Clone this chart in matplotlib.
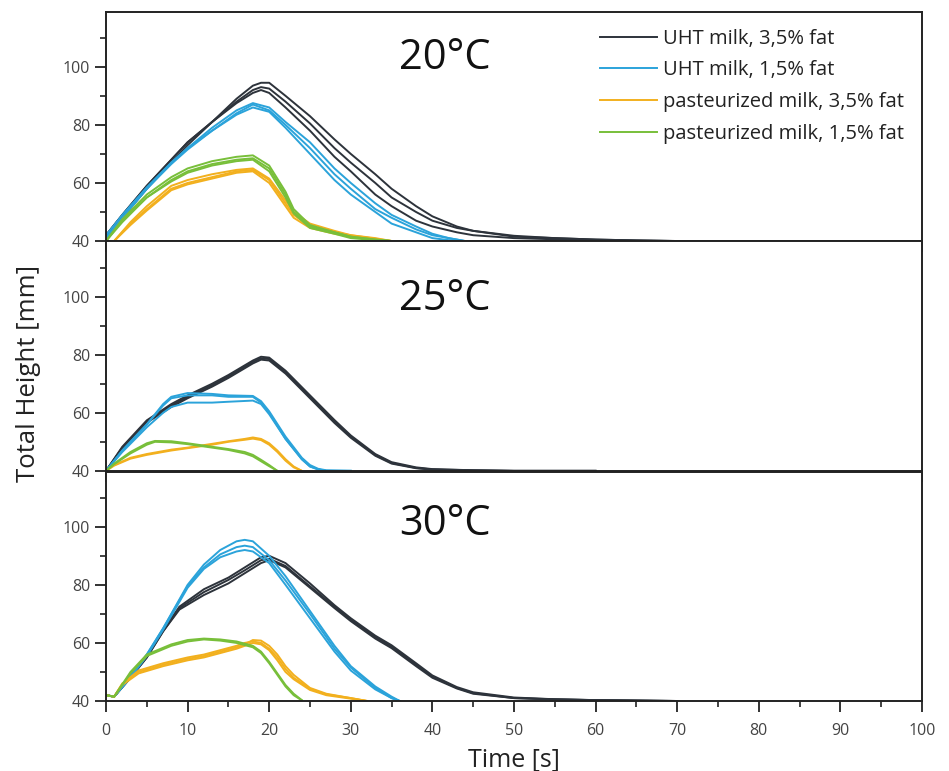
import matplotlib
matplotlib.use("Agg")
import matplotlib.pyplot as plt
from matplotlib.ticker import MultipleLocator

plt.rcParams['font.family'] = ['Open Sans', 'DejaVu Sans']

labels = ["UHT milk, 3,5% fat", "UHT milk, 1,5% fat",
          "pasteurized milk, 3,5% fat", "pasteurized milk, 1,5% fat"]
colors = ["#2d333b", "#2ba3da", "#f2b01e", "#78bf3a"]
temperatures = ["20°C", "25°C", "30°C"]

# ---- 20 °C ----
t20_uht35 = [0, 2, 5, 8, 10, 13, 16, 18, 19, 20, 22, 25, 28, 30, 33, 35, 38, 40, 43, 45, 50, 55, 60, 65, 70]
h20_uht35 = [
    [42, 49, 59, 68, 74, 81, 88, 92, 93, 92.5, 88, 80.5, 72, 67, 60, 55, 50, 47, 44.5, 43.5, 41.5, 41, 40.5, 40.2, 40],
    [41, 48, 58, 67, 73, 81, 89, 93.5, 94.5, 94.5, 90, 83, 75, 70, 63, 58, 52, 48.5, 45, 43.5, 41.8, 41, 40.5, 40.2, 40],
    [42, 49, 59, 68, 74, 81, 87.5, 91, 92, 91, 86, 78, 69, 64, 56, 52, 47, 45, 43, 42, 41, 40.6, 40.3, 40.1, 40],
]
t20_uht15 = [0, 2, 5, 8, 10, 13, 16, 18, 20, 22, 25, 28, 30, 33, 35, 38, 40, 42, 44]
h20_uht15 = [
    [41, 48, 58, 67, 72, 78, 84, 87, 85, 80, 72, 63, 58, 51, 48, 44, 42, 41, 40],
    [41, 48, 58, 66.5, 71.5, 78, 83.5, 86, 84.5, 79, 70, 61, 56, 50, 46, 43, 41, 40.3, 40],
    [42, 49, 58.5, 67, 72, 79, 85, 87.5, 86, 81, 74, 65, 60, 53, 49, 45, 42.5, 41, 40],
]
t20_past35 = [1, 3, 5, 8, 10, 13, 16, 18, 20, 22, 23, 25, 28, 30, 33, 35]
h20_past35 = [
    [40, 46, 51, 58, 60, 62, 64, 64.5, 61, 53, 49, 45, 43, 42, 40.8, 40],
    [40, 46.5, 52, 59, 61, 63, 64.5, 65, 61.5, 54, 50, 46, 43.5, 42, 41, 40],
    [40, 45.5, 50.5, 57.5, 59.5, 61.5, 63.5, 64, 60, 52, 48, 44.5, 42.5, 41.5, 40.5, 40],
]
t20_past15 = [0, 2, 5, 8, 10, 13, 16, 18, 20, 22, 23, 25, 28, 30, 33, 35]
h20_past15 = [
    [40, 47, 55, 61, 64, 66.5, 68, 68.5, 65, 56, 50, 45, 43, 41.5, 40.5, 40],
    [40, 47.5, 56, 62, 65, 67.5, 69, 69.5, 66, 57, 51, 45.5, 43, 41.5, 40.5, 40],
    [40, 46.5, 55, 60.5, 63.5, 66, 67.5, 68, 64, 55, 49.5, 44.5, 42.5, 41, 40.3, 40],
]

# ---- 25 °C ----
t25_uht35 = [0, 2, 5, 8, 10, 13, 15, 18, 19, 20, 22, 25, 28, 30, 33, 35, 38, 40, 45, 50, 60]
h25_uht35 = [
    [40, 48, 57, 62.5, 65.5, 69.5, 72.5, 77.5, 78.8, 78.5, 74, 65.5, 57, 51.8, 45.5, 42.7, 41, 40.5, 40.2, 40, 40],
    [40, 48.3, 57.4, 63, 66, 70, 73, 78, 79.3, 79, 74.5, 66, 57.5, 52.2, 45.8, 43, 41.2, 40.6, 40.2, 40, 40],
    [40, 47.7, 56.6, 62, 65, 69, 72, 77, 78.3, 78, 73.5, 65, 56.5, 51.4, 45.2, 42.5, 40.9, 40.4, 40.1, 40, 40],
]
t25_uht15 = [0, 2, 5, 7, 8, 10, 13, 15, 18, 19, 20, 22, 24, 25, 26, 27, 30]
h25_uht15 = [
    [40, 47, 56, 63, 65.5, 66.8, 66.5, 66, 65.8, 64, 60.5, 51.8, 44.5, 42, 40.7, 40.2, 40],
    [40, 47, 56, 62.5, 65, 66, 66, 65.5, 65.5, 63.5, 60, 51, 44, 41.5, 40.5, 40, 40],
    [40, 46.5, 55, 60, 62, 63.5, 63.5, 63.8, 64.2, 63, 59.5, 51, 44, 41.5, 40.5, 40, 40],
]
t25_past35 = [0, 1, 3, 5, 8, 10, 13, 15, 17, 18, 19, 20, 21, 22, 23, 24]
h25_past35 = [
    [40, 42, 44.5, 45.8, 47.3, 48, 49.3, 50.2, 51, 51.5, 51, 49.5, 47, 44, 41.5, 40],
    [40, 41.8, 44.2, 45.5, 47, 47.8, 49, 50, 50.7, 51.1, 50.6, 49, 46.5, 43.5, 41.2, 40],
]
t25_past15 = [0, 1, 3, 5, 6, 8, 10, 13, 15, 17, 18, 19, 20, 21]
h25_past15 = [
    [40, 42.5, 46.5, 49.5, 50.3, 50.2, 49.5, 48.3, 47.5, 46.5, 45.5, 43.8, 42, 40],
    [40, 42.3, 46, 49, 50, 49.8, 49.2, 48.0, 47.2, 46.0, 45.0, 43.3, 41.6, 40],
]

# ---- 30 °C ----
t30_uht35 = [0, 1, 3, 5, 7, 9, 12, 15, 17, 19, 20, 22, 25, 28, 30, 33, 35, 38, 40, 43, 45, 50, 55, 60, 70]
h30_uht35 = [
    [42, 41.5, 48, 55, 64, 72, 77.5, 81.7, 85, 88.5, 89, 86.5, 79.5, 72.5, 68, 62, 58.7, 52.5, 48.4, 44.5, 42.7, 41, 40.6, 40.3, 40],
    [42, 41.5, 48, 55, 64, 71.5, 76.5, 80.5, 84, 87.5, 88.5, 86, 79, 72, 67.5, 61.5, 58.2, 52, 48, 44.3, 42.5, 41, 40.5, 40.3, 40],
    [42, 41.5, 48.5, 55.5, 64.5, 72.5, 78.5, 82.5, 86, 89.5, 90, 87.5, 80.5, 73, 68.5, 62.5, 59.2, 53, 48.8, 44.8, 43, 41.2, 40.6, 40.3, 40],
]
t30_uht15 = [0, 1, 3, 5, 7, 10, 12, 14, 16, 17, 18, 20, 22, 25, 28, 30, 33, 35, 36]
h30_uht15 = [
    [42, 41.5, 48.5, 56, 65, 80, 87, 92, 95, 95.5, 95, 90, 83, 71, 59, 52, 45, 41.5, 40],
    [42, 41.5, 48.5, 56, 65, 79.5, 86, 90.5, 93, 93.5, 93, 88.5, 81.5, 70, 58, 51.5, 44.5, 41, 40],
    [42, 41.5, 48, 55.5, 64.5, 79, 85.5, 89.5, 91.5, 92, 91.5, 87.5, 80, 68.5, 57, 50.5, 44, 41, 40],
]
t30_past35 = [0, 1, 2, 4, 7, 10, 12, 14, 16, 17, 18, 19, 20, 21, 22, 23, 25, 27, 30, 32]
h30_past35 = [
    [42, 41.5, 46, 50, 52.5, 54.5, 55.5, 57, 58.5, 59.5, 61, 60.8, 59, 56, 52, 49, 44.5, 42.5, 41, 40],
    [42, 41.5, 45.5, 49.5, 52, 54, 55, 56.5, 58, 59, 60, 59.5, 57.5, 54, 50, 47.5, 43.8, 42, 40.8, 40],
    [42, 41.5, 46, 50.5, 53, 55, 56, 57.5, 59, 60, 60.5, 60, 58, 55, 51, 48, 44.2, 42.3, 41, 40],
]
t30_past15 = [0, 1, 3, 5, 8, 10, 12, 14, 16, 18, 19, 20, 21, 22, 23, 24]
h30_past15 = [
    [42, 41.5, 50, 56, 59.5, 61, 61.5, 61.2, 60.5, 59, 57, 53.5, 49.5, 45.5, 42.5, 40.3],
    [42, 41.5, 49.5, 55.5, 59, 60.5, 61.2, 60.8, 60, 58.5, 56.5, 53, 49, 45, 42, 40.2],
]


def main():
    panels = [
        [(t20_uht35, h20_uht35), (t20_uht15, h20_uht15), (t20_past35, h20_past35), (t20_past15, h20_past15)],
        [(t25_uht35, h25_uht35), (t25_uht15, h25_uht15), (t25_past35, h25_past35), (t25_past15, h25_past15)],
        [(t30_uht35, h30_uht35), (t30_uht15, h30_uht15), (t30_past35, h30_past35), (t30_past15, h30_past15)],
    ]
    temp_label_y = [0.80, 0.75, 0.77]

    fig = plt.figure(figsize=(9.49, 7.71), dpi=100)
    left, width, height = 0.1117, 0.8598, 0.2975
    bottoms = [0.6874, 0.3893, 0.0908]
    axes = []
    for i in range(3):
        ax = fig.add_axes([left, bottoms[i], width, height], sharex=axes[0] if axes else None)
        axes.append(ax)

    for i, ax in enumerate(axes):
        for j, (t, reps) in enumerate(panels[i]):
            for k, h in enumerate(reps):
                ax.plot(t, h, color=colors[j], lw=1.4,
                        label=labels[j] if k == 0 else None)
        ax.set_xlim(0, 100)
        ax.set_ylim(40, 119)
        ax.xaxis.set_major_locator(MultipleLocator(10))
        ax.xaxis.set_minor_locator(MultipleLocator(5))
        ax.yaxis.set_minor_locator(MultipleLocator(10))
        ax.set_yticks([40, 60, 80, 100])
        ax.tick_params(axis='both', which='major', direction='out', length=8, width=1.3,
                       labelsize=11.5, labelcolor="#444444", color="#222222")
        ax.tick_params(axis='x', which='major', pad=8)
        ax.tick_params(axis='both', which='minor', direction='out', length=4.5, width=1.2,
                       color="#222222")
        for sp in ax.spines.values():
            sp.set_linewidth(1.4)
            sp.set_color("#222222")
        ax.text(0.415, temp_label_y[i], temperatures[i], transform=ax.transAxes,
                ha='center', va='center', fontsize=30, color="#111111")
        if i < 2:
            ax.tick_params(axis='x', which='both', labelbottom=False)

    axes[0].legend(loc='upper right', frameon=False, fontsize=14.5, handlelength=2.8,
                   handletextpad=0.3, labelspacing=0.58, bbox_to_anchor=(1.0, 1.005),
                   labelcolor="#222222")
    axes[2].set_xlabel("Time [s]", fontsize=18, color="#222222", labelpad=6)
    fig.text(0.03, 0.515, "Total Height [mm]", rotation=90, ha='center', va='center',
             fontsize=18.5, color="#222222")

    fig.savefig("out.png", dpi=100)


if __name__ == "__main__":
    main()
